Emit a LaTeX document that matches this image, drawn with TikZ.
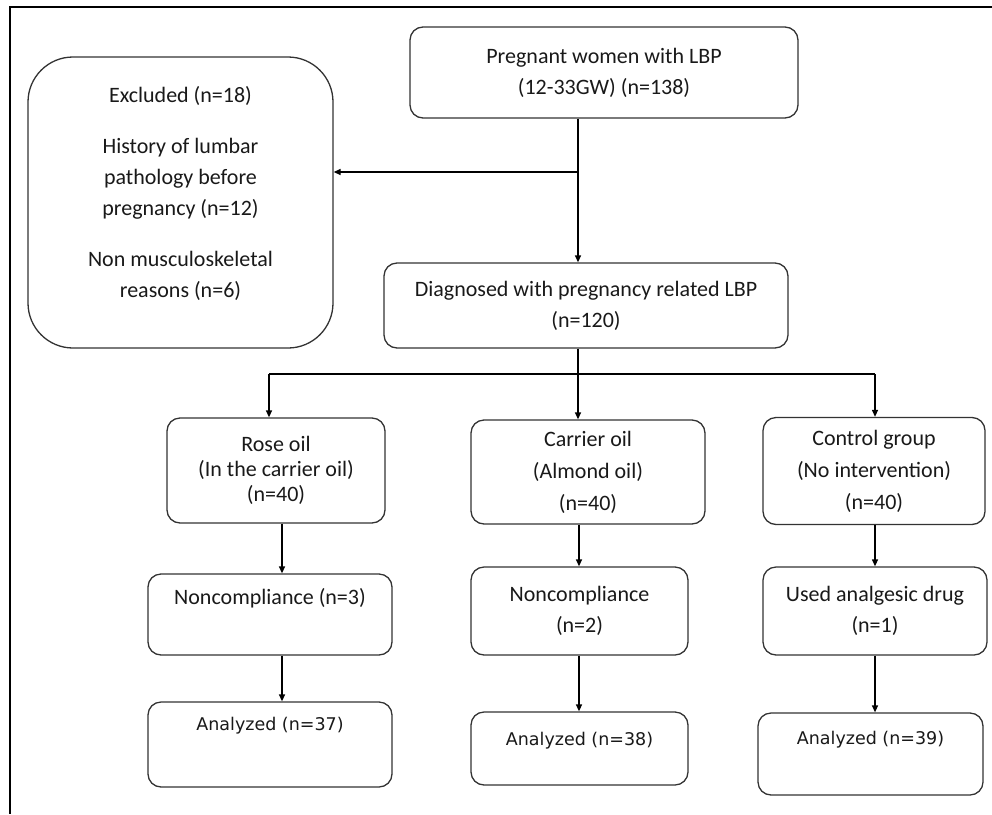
\documentclass[tikz,border=0pt]{standalone}
\usepackage{fontspec}
\setmainfont{Carlito}
\newfontfamily\analyzedfont{DejaVu Sans}
\usetikzlibrary{arrows.meta}

\begin{document}
\begin{tikzpicture}[x=1pt,y=-1pt,
  flowbox/.style={draw=black!80,line width=1.3pt,rounded corners=13pt,align=center,inner sep=0pt,text=black!90,font=\fontsize{22}{31}\selectfont},
  smalltext/.style={font=\analyzedfont\fontsize{17.5}{21}\selectfont},
  link/.style={draw=black,line width=1.3pt},
  arrow/.style={link,-{Triangle[length=7pt,width=6pt]}}]
\useasboundingbox (0,0) rectangle (992,814);
\draw[line width=2.5pt] (992,7) -- (10,7) -- (10,814);
\node[flowbox,minimum width=388pt,minimum height=91pt] (women) at (604,72.5) {Pregnant women with LBP\\(12-33GW) (n=138)};
\node[flowbox,rounded corners=45pt,minimum width=305pt,minimum height=291pt] (excluded) at (180.5,202.5) {Excluded (n=18)\\[20pt]History of lumbar\\pathology before\\pregnancy (n=12)\\[20pt]Non musculoskeletal\\reasons (n=6)\\[-9pt]\mbox{}};
\node[flowbox,minimum width=404pt,minimum height=85pt] (diagnosed) at (586,305.5) {Diagnosed with pregnancy related LBP\\(n=120)};
\node[flowbox,minimum width=218pt,minimum height=105pt,font=\fontsize{22}{25}\selectfont] (rose) at (276,470.5) {Rose oil\\(In the carrier oil)\\(n=40)};
\node[flowbox,minimum width=234pt,minimum height=104pt,font=\fontsize{22}{32}\selectfont] (carrier) at (588,472) {Carrier oil\\(Almond oil)\\(n=40)};
\node[flowbox,minimum width=222pt,minimum height=107pt,font=\fontsize{22}{32}\selectfont] (control) at (874,471) {Control group\\(No intervention)\\(n=40)};
\node[flowbox,minimum width=244pt,minimum height=81pt,text depth=37pt] (noncomp1) at (270,614.5) {Noncompliance (n=3)};
\node[flowbox,minimum width=217pt,minimum height=88pt] (noncomp2) at (579.5,611) {Noncompliance\\(n=2)};
\node[flowbox,minimum width=224pt,minimum height=88pt] (analgesic) at (875,611) {Used analgesic drug\\(n=1)};
\node[flowbox,smalltext,minimum width=244pt,minimum height=85pt,text depth=42pt] (analyzed1) at (270,744.5) {Analyzed (n=37)};
\node[flowbox,smalltext,minimum width=217pt,minimum height=73pt,text depth=20pt] (analyzed2) at (579.5,748.5) {Analyzed (n=38)};
\node[flowbox,smalltext,minimum width=225pt,minimum height=82pt,text depth=32pt] (analyzed3) at (870.5,754) {Analyzed (n=39)};
\coordinate (split) at (578,172);
\coordinate (fork) at (578,374);
\coordinate (forkL) at (269,374);
\coordinate (forkR) at (875,374);
\coordinate (colA) at (282,0);
\coordinate (colB) at (579,0);
\coordinate (colC) at (875,0);
\draw[link] (women.south -| split) -- (split);
\draw[arrow] (split) -- (excluded.east |- split);
\draw[arrow] (split) -- (diagnosed.north -| split);
\draw[link] (forkL) -- (forkR);
\draw[arrow] (forkL) -- (rose.north -| forkL);
\draw[arrow] (diagnosed.south -| fork) -- (carrier.north -| fork);
\draw[arrow] (forkR) -- (control.north -| forkR);
\draw[arrow] (rose.south -| colA) -- (noncomp1.north -| colA);
\draw[arrow] (carrier.south -| colB) -- (noncomp2.north -| colB);
\draw[arrow] (control.south -| colC) -- (analgesic.north -| colC);
\draw[arrow] (noncomp1.south -| colA) -- (analyzed1.north -| colA);
\draw[arrow] (noncomp2.south -| colB) -- (analyzed2.north -| colB);
\draw[arrow] (analgesic.south -| colC) -- (analyzed3.north -| colC);
\end{tikzpicture}
\end{document}
